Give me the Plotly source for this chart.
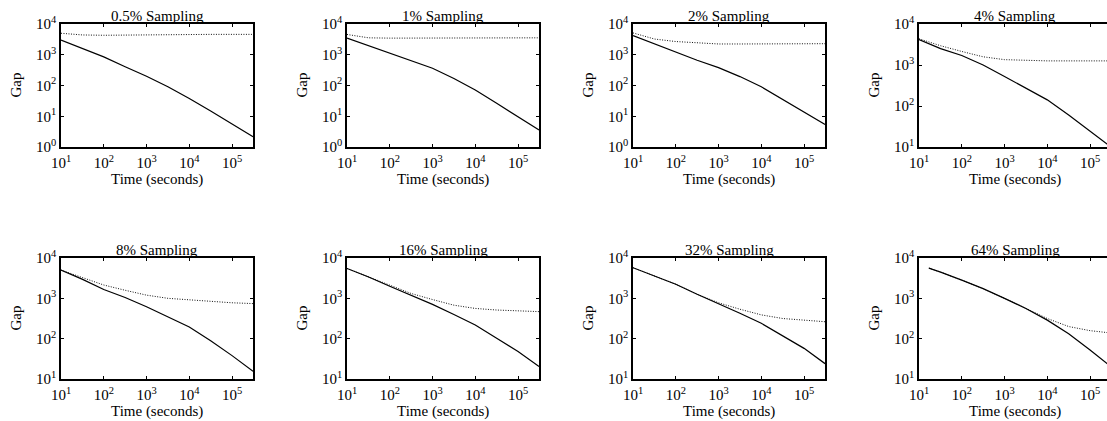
import plotly.graph_objects as go

# ---------------- data ----------------
titles = ["0.5% Sampling", "1% Sampling", "2% Sampling", "4% Sampling",
          "8% Sampling", "16% Sampling", "32% Sampling", "64% Sampling"]

time_s = [10, 32, 100, 316, 1000, 3162, 10000, 31623, 100000, 310000]
time_s_64 = [17, 32, 100, 316, 1000, 3162, 10000, 31623, 100000, 310000]

solid_p0_5 = [3020, 1620, 851, 407, 200, 91, 38, 14.8, 5.75, 2.14]
dotted_p0_5 = [5000, 4400, 4300, 4400, 4500, 4500, 4600, 4600, 4600, 4600]

solid_p1 = [3470, 1950, 1175, 660, 363, 170, 71, 26.3, 9.5, 3.6]
dotted_p1 = [4570, 3550, 3470, 3470, 3470, 3470, 3470, 3470, 3550, 3550]

solid_p2 = [4170, 2240, 1175, 660, 380, 195, 91, 35.5, 13.8, 5.4]
dotted_p2 = [5130, 3240, 2690, 2400, 2240, 2240, 2240, 2240, 2240, 2290]

solid_p4 = [4170, 2510, 1700, 1000, 525, 275, 141, 60, 24, 10]
dotted_p4 = [4365, 2950, 2140, 1585, 1350, 1290, 1260, 1260, 1260, 1260]

solid_p8 = [5010, 2950, 1660, 1050, 617, 355, 195, 89, 38, 15.5]
dotted_p8 = [5010, 3310, 2140, 1585, 1200, 1000, 912, 832, 776, 741]

solid_p16 = [5500, 3390, 2000, 1200, 708, 398, 219, 102, 48, 20.4]
dotted_p16 = [5500, 3390, 2140, 1320, 933, 676, 562, 513, 490, 468]

solid_p32 = [5750, 3550, 2240, 1260, 741, 427, 240, 117, 57.5, 24]
dotted_p32 = [5750, 3550, 2240, 1260, 776, 537, 389, 316, 288, 263]

solid_p64 = [5620, 4470, 2820, 1740, 1000, 560, 288, 132, 52.5, 20]
dotted_p64 = [5620, 4470, 2820, 1740, 1000, 570, 316, 200, 158, 138]

x_tickvals = [10, 100, 1000, 10000, 100000]
x_ticktext = ["10<sup>1</sup>", "10<sup>2</sup>", "10<sup>3</sup>", "10<sup>4</sup>", "10<sup>5</sup>"]
y_tickvals_full = [1, 10, 100, 1000, 10000]
y_ticktext_full = ["10<sup>0</sup>", "10<sup>1</sup>", "10<sup>2</sup>", "10<sup>3</sup>", "10<sup>4</sup>"]

panels = [
    (time_s, solid_p0_5, dotted_p0_5, 0),
    (time_s, solid_p1, dotted_p1, 0),
    (time_s, solid_p2, dotted_p2, 0),
    (time_s, solid_p4, dotted_p4, 1),
    (time_s, solid_p8, dotted_p8, 1),
    (time_s, solid_p16, dotted_p16, 1),
    (time_s, solid_p32, dotted_p32, 1),
    (time_s_64, solid_p64, dotted_p64, 1),
]

# ---------------- layout ----------------
W, H = 1107, 421
col_left = [61, 347, 633, 919]
plot_w = 192
row_top = [24, 258]
row_bot = [147, 379]
decade_px = plot_w / 4.49

FONT = "Liberation Serif, Times New Roman, serif"

fig = go.Figure()
annotations = []

for i, (t, s, d, ymin) in enumerate(panels):
    r, c = divmod(i, 4)
    left = col_left[c]
    right = min(left + plot_w, W)
    xr_end = 1 + (right - left) / decade_px
    ax = "" if i == 0 else str(i + 1)
    xa = "x" + ax
    ya = "y" + ax
    fig.add_trace(go.Scatter(x=t, y=d, mode="lines", xaxis=xa, yaxis=ya,
                             line=dict(color="#111111", width=1, dash="1px,1.5px"),
                             showlegend=False, hoverinfo="skip"))
    fig.add_trace(go.Scatter(x=t, y=s, mode="lines", xaxis=xa, yaxis=ya,
                             line=dict(color="black", width=1.2),
                             showlegend=False, hoverinfo="skip"))

    last_col = (c == 3)
    xdom = [left / W, right / W]
    ydom = [1 - row_bot[r] / H, 1 - row_top[r] / H]
    if ymin == 0:
        yv, yt = y_tickvals_full, y_ticktext_full
    else:
        yv, yt = y_tickvals_full[1:], y_ticktext_full[1:]

    fig.update_layout(**{
        "xaxis" + ax: dict(domain=xdom, type="log", range=[1, xr_end], anchor=ya,
                           automargin=False,
                           tickvals=x_tickvals, ticktext=x_ticktext,
                           ticks="inside", ticklen=3, tickwidth=1, tickcolor="black",
                           showline=True, linecolor="black", linewidth=1.6,
                           mirror="ticks", showgrid=False, zeroline=False,
                           ticklabelstandoff=1,
                           tickfont=dict(family=FONT, size=15, color="black")),
        "yaxis" + ax: dict(domain=ydom, type="log", range=[ymin, 4], anchor=xa,
                           automargin=False,
                           tickvals=yv, ticktext=yt,
                           ticks="inside", ticklen=3, tickwidth=1, tickcolor="black",
                           showline=True, linecolor="black", linewidth=1.6,
                           mirror=False if last_col else "ticks",
                           showgrid=False, zeroline=False,
                           tickfont=dict(family=FONT, size=15, color="black")),
    })

    cx = (left + left + plot_w) / 2
    # panel title
    annotations.append(dict(text=titles[i], xref="paper", yref="paper",
                            x=cx / W, y=1 - row_top[r] / H, xanchor="center", yanchor="bottom",
                            showarrow=False, font=dict(family=FONT, size=15, color="black"),
                            yshift=-2))
    # x-axis title
    annotations.append(dict(text="Time (seconds)", xref="paper", yref="paper",
                            x=cx / W, y=1 - (row_bot[r] + 32) / H, xanchor="center", yanchor="middle",
                            showarrow=False, font=dict(family=FONT, size=15, color="black")))
    # y-axis title
    annotations.append(dict(text="Gap", xref="paper", yref="paper", textangle=-90,
                            x=(left - 46) / W, y=1 - (row_top[r] + row_bot[r]) / 2 / H,
                            xanchor="center", yanchor="middle",
                            showarrow=False, font=dict(family=FONT, size=15, color="black")))

fig.update_layout(width=W, height=H, margin=dict(l=0, r=0, t=0, b=0, autoexpand=False),
                  paper_bgcolor="white", plot_bgcolor="white",
                  annotations=annotations)

fig.write_html("out.html", config={"displayModeBar": False},
               post_script="document.body.style.margin='0';document.body.style.overflow='hidden';")
